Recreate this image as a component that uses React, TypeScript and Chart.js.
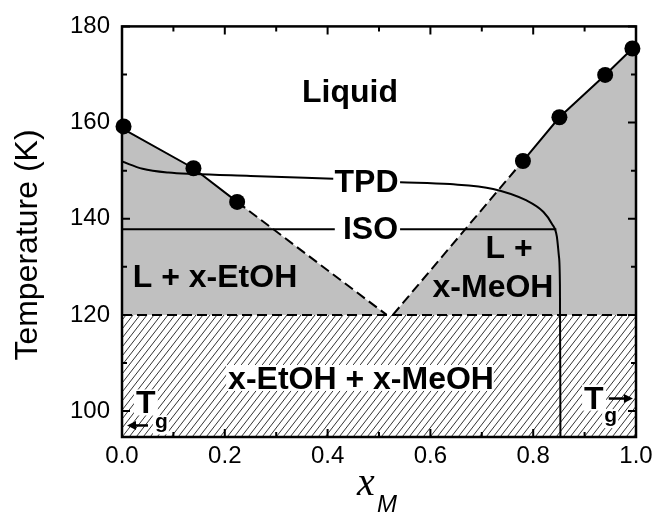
import { useEffect, useRef } from 'react';
import { Chart, registerables } from 'chart.js';

Chart.register(...registerables);

// ---------------- data ----------------
const xMajorTicks = [0, 0.2, 0.4, 0.6, 0.8, 1.0];
const xMinorTicks = [0.1, 0.3, 0.5, 0.7, 0.9];
const yMajorTicks = [100, 120, 140, 160, 180];
const yMinorTicks = [110, 130, 150, 170];

const yMin = 94.6;
const yMax = 180;

// measured liquidus points (filled circles)
const etohPointsX = [0.003, 0.139, 0.224];
const etohPointsT = [159.2, 150.5, 143.5];
const meohPointsX = [0.78, 0.851, 0.94, 0.993];
const meohPointsT = [152.0, 161.1, 169.9, 175.4];

// liquidus lines
const etohSolidX = [0, 0.139, 0.224];
const etohSolidT = [158.8, 150.5, 143.5];
const etohDashX = [0.224, 0.515];
const etohDashT = [143.5, 120];
const meohSolidX = [0.78, 0.851, 0.94, 0.993, 1.0];
const meohSolidT = [152.0, 161.1, 169.9, 175.4, 176.0];
const meohDashX = [0.527, 0.78];
const meohDashT = [120, 152.0];

// two-phase (gray) regions
const etohRegionX = [0, 0.139, 0.224, 0.515];
const etohRegionT = [158.8, 150.5, 143.5, 120];
const meohRegionX = [0.527, 0.78, 0.851, 0.94, 0.993, 1.0];
const meohRegionT = [120, 152.0, 161.1, 169.9, 175.4, 176.0];

// solid-solid boundary
const boundaryX = [0, 1];
const boundaryT = [120, 120];

// TPD curve (split around its label)
const tpdLeftX = [0, 0.04, 0.09, 0.14, 0.25, 0.411];
const tpdLeftT = [151.9, 150.4, 149.6, 149.3, 148.9, 148.3];
const tpdRightX = [0.541, 0.638, 0.722, 0.787, 0.82, 0.836, 0.846, 0.85, 0.852, 0.853];
const tpdRightT = [147.6, 147.2, 146.2, 143.8, 141.4, 139.0, 136.3, 132.2, 126.1, 94.0];

// ISO line (split around its label)
const isoLeftX = [0, 0.414];
const isoLeftT = [137.8, 137.8];
const isoRightX = [0.541, 0.845];
const isoRightT = [137.8, 137.8];

const pts = (xs: number[], ys: number[]) => xs.map((x, i) => ({ x, y: ys[i] }));

const SANS = '"Liberation Sans", Arial, sans-serif';
const SERIF = '"Liberation Serif", "Times New Roman", serif';

export default function App() {
  const ref = useRef<HTMLCanvasElement>(null);

  useEffect(() => {
    const canvas = ref.current!;
    const ctx = canvas.getContext('2d')!;

    const tile = document.createElement('canvas');
    tile.width = 7;
    tile.height = 9;
    const tctx = tile.getContext('2d')!;
    tctx.strokeStyle = '#333';
    tctx.lineWidth = 1;
    for (const dx of [-7, 0, 7]) {
      tctx.beginPath();
      tctx.moveTo(dx, 9);
      tctx.lineTo(dx + 7, 0);
      tctx.stroke();
    }
    const hatch = ctx.createPattern(tile, 'repeat')!;

    const GRAY = '#c0c0c0';

    const decor = {
      id: 'decor',
      afterDatasetsDraw(chart: any) {
        const c = chart.ctx as CanvasRenderingContext2D;
        const xs = chart.scales.x;
        const ys = chart.scales.y;
        const px = (v: number) => xs.getPixelForValue(v);
        const py = (v: number) => ys.getPixelForValue(v);
        const { left, right, top, bottom } = chart.chartArea;

        c.save();
        const text = (
          s: string, x: number, y: number, size: number,
          align: CanvasTextAlign, bg: boolean, style = 'bold', family = SANS
        ) => {
          c.font = `${style} ${size}px ${family}`;
          c.textAlign = align;
          c.textBaseline = 'alphabetic';
          const X = px(x), Y = py(y);
          if (bg) {
            const m = c.measureText(s);
            c.fillStyle = '#fff';
            c.fillRect(
              X - m.actualBoundingBoxLeft - 2,
              Y - m.actualBoundingBoxAscent - 2,
              m.actualBoundingBoxLeft + m.actualBoundingBoxRight + 4,
              m.actualBoundingBoxAscent + m.actualBoundingBoxDescent + 4
            );
          }
          c.fillStyle = '#000';
          c.fillText(s, X, Y);
        };

        text('Liquid', 0.4436, 164.3, 32, 'center', false);
        text('TPD', 0.4757, 145.6, 32, 'center', false);
        text('ISO', 0.4835, 135.7, 32, 'center', false);
        text('L + x-EtOH', 0.181, 125.7, 32, 'center', false);
        text('L +', 0.753, 131.9, 32, 'center', false);
        text('x-MeOH', 0.7218, 123.7, 32, 'center', false);
        text('x-EtOH + x-MeOH', 0.465, 104.6, 32, 'center', true);
        text('T', 0.027, 99.5, 32, 'left', true);
        text('g', 0.064, 96.4, 21, 'left', true);
        text('T', 0.899, 100.5, 32, 'left', true);
        text('g', 0.938, 97.7, 21, 'left', true);

        // arrows
        const arrow = (x1: number, x2: number, y: number) => {
          const X1 = px(x1), X2 = px(x2), Y = py(y);
          const d = X2 > X1 ? 1 : -1;
          c.strokeStyle = '#000';
          c.fillStyle = '#000';
          c.lineWidth = 2.5;
          c.beginPath();
          c.moveTo(X1, Y);
          c.lineTo(X2 - d * 6, Y);
          c.stroke();
          c.beginPath();
          c.moveTo(X2, Y);
          c.lineTo(X2 - d * 9, Y - 4.5);
          c.lineTo(X2 - d * 9, Y + 4.5);
          c.closePath();
          c.fill();
        };
        arrow(0.0506, 0.0097, 97.0);
        arrow(0.947, 0.994, 102.6);

        // frame
        c.strokeStyle = '#000';
        c.lineWidth = 2.5;
        c.strokeRect(left, top, right - left, bottom - top);

        // inward ticks on all four sides
        c.lineWidth = 2;
        c.beginPath();
        const xt = (v: number, len: number) => {
          const X = px(v);
          c.moveTo(X, bottom); c.lineTo(X, bottom - len);
          c.moveTo(X, top); c.lineTo(X, top + len);
        };
        const yt = (v: number, len: number) => {
          const Y = py(v);
          c.moveTo(left, Y); c.lineTo(left + len, Y);
          c.moveTo(right, Y); c.lineTo(right - len, Y);
        };
        xMajorTicks.forEach((v) => xt(v, 8));
        xMinorTicks.forEach((v) => xt(v, 5));
        yMajorTicks.forEach((v) => yt(v, 8));
        yMinorTicks.forEach((v) => yt(v, 5));
        c.stroke();

        // axis titles
        c.fillStyle = '#000';
        c.save();
        c.translate(28.5, 245);
        c.rotate(-Math.PI / 2);
        c.font = `32px ${SANS}`;
        c.textAlign = 'center';
        c.textBaseline = 'middle';
        c.fillText('Temperature (K)', 0, 0);
        c.restore();

        c.textAlign = 'left';
        c.textBaseline = 'alphabetic';
        c.font = `italic 40px ${SERIF}`;
        c.fillText('x', 357, 495);
        c.font = `italic 24px ${SANS}`;
        c.fillText('M', 377, 512);

        c.restore();
      },
    };

    const lineDs = (data: any, extra: any = {}) => ({
      type: 'line',
      data,
      borderColor: '#000',
      borderWidth: 2,
      pointRadius: 0,
      fill: false,
      ...extra,
    });

    const chart = new Chart(canvas, {
      type: 'line',
      data: {
        datasets: [
          {
            type: 'scatter',
            data: pts(etohPointsX, etohPointsT).concat(pts(meohPointsX, meohPointsT)),
            pointRadius: 8,
            pointBackgroundColor: '#000',
            pointBorderColor: '#000',
            pointBorderWidth: 0,
            showLine: false,
            clip: false,
            order: 0,
          } as any,
          lineDs(pts(tpdLeftX, tpdLeftT), { cubicInterpolationMode: 'monotone', order: 1 }),
          lineDs(pts(tpdRightX, tpdRightT), { cubicInterpolationMode: 'monotone', order: 1 }),
          lineDs(pts(isoLeftX, isoLeftT), { order: 1 }),
          lineDs(pts(isoRightX, isoRightT), { order: 1 }),
          lineDs(pts(etohSolidX, etohSolidT), { order: 1 }),
          lineDs(pts(meohSolidX, meohSolidT), { order: 1 }),
          lineDs(pts(etohDashX, etohDashT), { borderDash: [10, 5], order: 2 }),
          lineDs(pts(meohDashX, meohDashT), { borderDash: [10, 5], order: 2 }),
          lineDs(pts(boundaryX, boundaryT), {
            borderDash: [10, 5],
            fill: 'start',
            backgroundColor: hatch,
            order: 3,
          }),
          lineDs(pts(etohRegionX, etohRegionT), {
            borderWidth: 0,
            borderColor: 'rgba(0,0,0,0)',
            fill: { value: 120 },
            backgroundColor: GRAY,
            order: 4,
          }),
          lineDs(pts(meohRegionX, meohRegionT), {
            borderWidth: 0,
            borderColor: 'rgba(0,0,0,0)',
            fill: { value: 120 },
            backgroundColor: GRAY,
            order: 4,
          }),
        ] as any,
      },
      options: {
        responsive: false,
        animation: false,
        events: [],
        layout: { padding: { left: 0, top: 20, right: 31, bottom: 0 } },
        plugins: {
          legend: { display: false },
          tooltip: { enabled: false },
        },
        scales: {
          x: {
            type: 'linear',
            min: 0,
            max: 1,
            grid: { display: false, drawTicks: false },
            border: { display: false },
            ticks: {
              stepSize: 0.2,
              autoSkip: false,
              maxRotation: 0,
              padding: 5,
              color: '#000',
              font: { family: SANS, size: 24 },
              callback: (v: any) => Number(v).toFixed(1),
            },
            afterFit: (s: any) => { s.height = 77; },
          },
          y: {
            type: 'linear',
            min: yMin,
            max: yMax,
            grid: { display: false, drawTicks: false },
            border: { display: false },
            ticks: {
              stepSize: 20,
              includeBounds: false,
              padding: 12,
              color: '#000',
              font: { family: SANS, size: 24 },
            },
            afterFit: (s: any) => { s.width = 122; },
          },
        },
      } as any,
      plugins: [decor],
    });

    return () => chart.destroy();
  }, []);

  return (
    <div style={{ position: 'absolute', left: 0, top: 0, width: 667, height: 514, background: '#fff' }}>
      <canvas ref={ref} width={667} height={514} style={{ display: 'block' }} />
    </div>
  );
}
